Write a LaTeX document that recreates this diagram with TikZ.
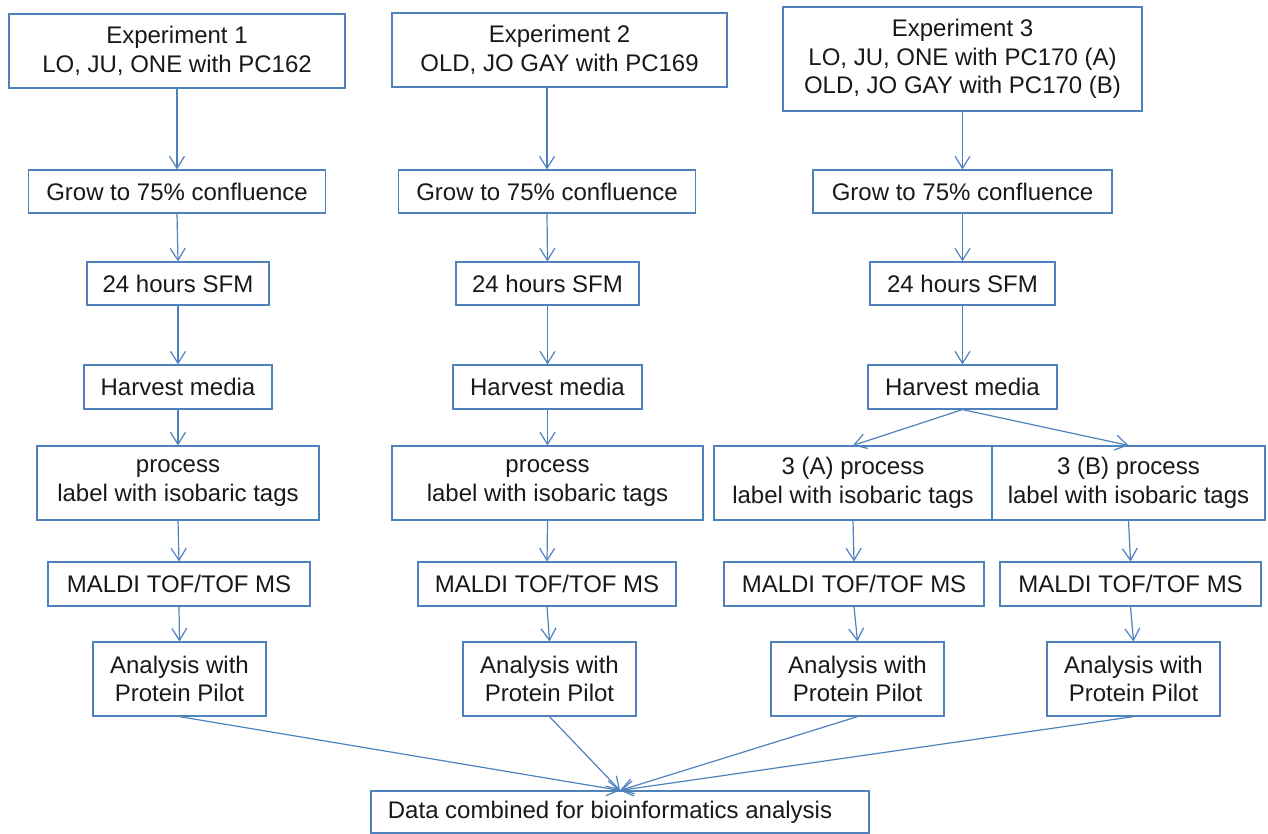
\documentclass[tikz,border=0pt]{standalone}
\usepackage{fontspec}
\setmainfont{Liberation Sans}
\usetikzlibrary{arrows.meta}
\definecolor{boxblue}{RGB}{79,129,189}
\begin{document}
\begin{tikzpicture}[x=1pt,y=-1pt,
  box/.style={draw=boxblue, line width=1.2pt, fill=white, inner sep=0pt, align=center,
              font=\fontsize{24}{28.5}\selectfont, text=black!90},
  arr/.style={draw=boxblue, line width=1.2pt, -{Straight Barb[length=12pt,width=15pt]}}]
\useasboundingbox (0,0) rectangle (1268,833);

% Column 1
\node[box, minimum width=336pt, minimum height=74pt] (e1) at (177,51) {Experiment 1\\LO, JU, ONE with PC162};
\node[box, minimum width=297pt, minimum height=43pt] (g1) at (177,191.5) {Grow to 75\% confluence};
\node[box, minimum width=182pt, minimum height=43pt] (s1) at (178,283.5) {24 hours SFM};
\node[box, minimum width=188pt, minimum height=44pt] (h1) at (178,387) {Harvest media};
\node[box, minimum width=282pt, minimum height=74pt] (p1) at (178,483) {process\\label with isobaric tags};
\node[box, minimum width=262pt, minimum height=44pt] (m1) at (179,584) {MALDI TOF/TOF MS};
\node[box, minimum width=173pt, minimum height=74pt] (a1) at (179.5,679) {Analysis with\\Protein Pilot};

% Column 2
\node[box, minimum width=335pt, minimum height=74pt] (e2) at (559.5,50) {Experiment 2\\OLD, JO GAY with PC169};
\node[box, minimum width=297pt, minimum height=43pt] (g2) at (547,191.5) {Grow to 75\% confluence};
\node[box, minimum width=183pt, minimum height=43pt] (s2) at (547.5,283.5) {24 hours SFM};
\node[box, minimum width=189pt, minimum height=44pt] (h2) at (547.5,387) {Harvest media};
\node[box, minimum width=311pt, minimum height=74pt] (p2) at (547.5,483) {process\\label with isobaric tags};
\node[box, minimum width=258pt, minimum height=44pt] (m2) at (547,584) {MALDI TOF/TOF MS};
\node[box, minimum width=173pt, minimum height=74pt] (a2) at (549.5,679) {Analysis with\\Protein Pilot};

% Column 3
\node[box, minimum width=359pt, minimum height=104pt] (e3) at (962.5,59) {Experiment 3\\LO, JU, ONE with PC170 (A)\\OLD, JO GAY with PC170 (B)};
\node[box, minimum width=299pt, minimum height=43pt] (g3) at (962.5,191.5) {Grow to 75\% confluence};
\node[box, minimum width=185pt, minimum height=43pt] (s3) at (962.5,283.5) {24 hours SFM};
\node[box, minimum width=189pt, minimum height=44pt] (h3) at (962.5,387) {Harvest media};
\node[box, minimum width=278pt, minimum height=74pt] (pa) at (853,483) {3 (A) process\\label with isobaric tags};
\node[box, minimum width=273pt, minimum height=74pt] (pb) at (1128.5,483) {3 (B) process\\label with isobaric tags};
\node[box, minimum width=260pt, minimum height=44pt] (ma) at (854,584) {MALDI TOF/TOF MS};
\node[box, minimum width=261pt, minimum height=44pt] (mb) at (1130.5,584) {MALDI TOF/TOF MS};
\node[box, minimum width=173pt, minimum height=74pt] (aa) at (857.5,679) {Analysis with\\Protein Pilot};
\node[box, minimum width=173pt, minimum height=74pt] (ab) at (1133.5,679) {Analysis with\\Protein Pilot};

% Final
\node[box, minimum width=498pt, minimum height=42pt] (d) at (620,812) {Data combined for bioinformatics analysis\kern20pt};

% Arrows column 1
\draw[arr] (e1.south) -- (g1.north);
\draw[arr] (g1.south) -- (s1.north);
\draw[arr] (s1.south) -- (h1.north);
\draw[arr] (h1.south) -- (p1.north);
\draw[arr] (p1.south) -- (m1.north);
\draw[arr] (m1.south) -- (a1.north);
% Arrows column 2
\draw[arr] (e2.south -| g2.north) -- (g2.north);
\draw[arr] (g2.south) -- (s2.north);
\draw[arr] (s2.south) -- (h2.north);
\draw[arr] (h2.south) -- (p2.north);
\draw[arr] (p2.south) -- (m2.north);
\draw[arr] (m2.south) -- (a2.north);
% Arrows column 3
\draw[arr] (e3.south) -- (g3.north);
\draw[arr] (g3.south) -- (s3.north);
\draw[arr] (s3.south) -- (h3.north);
\draw[arr] (h3.south) -- (pa.north);
\draw[arr] (h3.south) -- (pb.north);
\draw[arr] (pa.south) -- (ma.north);
\draw[arr] (pb.south) -- (mb.north);
\draw[arr] (ma.south) -- (aa.north);
\draw[arr] (mb.south) -- (ab.north);
% To final
\draw[arr] (a1.south) -- (d.north);
\draw[arr] (a2.south) -- (d.north);
\draw[arr] (aa.south) -- (d.north);
\draw[arr] (ab.south) -- (d.north);
\end{tikzpicture}
\end{document}
